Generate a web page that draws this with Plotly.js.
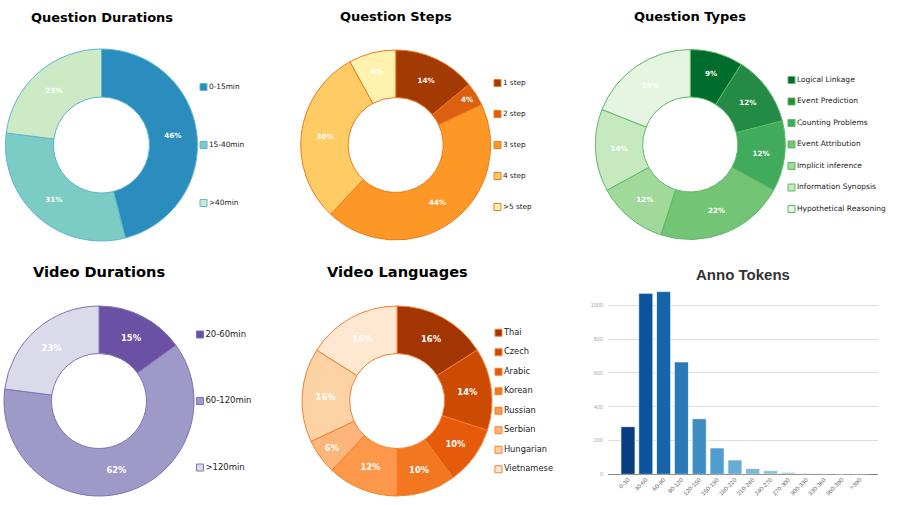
<!DOCTYPE html>
<html>
<head>
<meta charset="utf-8">
<script src="https://cdn.plot.ly/plotly-3.0.1.min.js"></script>
<style>
  html, body { margin: 0; padding: 0; background: #fff; }
  #chart { width: 897px; height: 505px; }
</style>
</head>
<body>
<div id="chart"></div>
<script>
const W = 897, H = 505;

// ---- data ----
const qDurLabels = ['0-15min', '15-40min', '>40min'];
const qDurValues = [46, 31, 23];
const qDurColors = ['#2b8cbe', '#7bccc4', '#ccebc5'];

const qStepLabels = ['1 step', '2 step', '3 step', '4 step', '>5 step'];
const qStepValues = [14, 4, 44, 30, 8];
const qStepColors = ['#a33a03', '#dc600f', '#fd9827', '#fecb65', '#fff2ae'];

const qTypeLabels = ['Logical Linkage', 'Event Prediction', 'Counting Problems', 'Event Attribution',
  'Implicit inference', 'Information Synopsis', 'Hypothetical Reasoning'];
const qTypeValues = [9, 12, 12, 22, 12, 14, 19];
const qTypeColors = ['#006d2c', '#238b45', '#41ab5d', '#74c476', '#a1d99b', '#c7e9c0', '#e5f5e0'];

const vDurLabels = ['20-60min', '60-120min', '>120min'];
const vDurValues = [15, 62, 23];
const vDurColors = ['#6a51a3', '#9e9ac8', '#dadaeb'];

const vLangLabels = ['Thai', 'Czech', 'Arabic', 'Korean', 'Russian', 'Serbian', 'Hungarian', 'Vietnamese'];
const vLangValues = [16, 14, 10, 10, 12, 6, 16, 16];
const vLangColors = ['#a33503', '#cc4a02', '#e65a0c', '#f37720', '#fd984a', '#fdb57a', '#fdd2a5', '#fee8d2'];

const tokenBins = ['0-30', '30-60', '60-90', '90-120', '120-150', '150-180', '180-210', '210-240',
  '240-270', '270-300', '300-330', '330-360', '360-390', '>390'];
const tokenCounts = [282, 1071, 1081, 665, 329, 156, 85, 34, 22, 12, 6, 4, 2, 2];
const tokenColors = ['#083d7f', '#0a539e', '#1764ab', '#2a7ab9', '#3d8dc4', '#4f9ecf', '#68acd5',
  '#7db8da', '#90c2de', '#a0cae2', '#b0d2e7', '#bfdaec', '#cbe0f0', '#d6e7f4'];

// ---- layout of the donut panels ----
const panels = [
  {title: 'Question Durations', labels: qDurLabels, values: qDurValues, colors: qDurColors,
   edge: '#5db4d4', cx: 101.5, cy: 145, r: 96, ty: 17, tsize: 13, pct: 7.2,
   lx: 203.5, gap: 58, lfont: 7.4},
  {title: 'Question Steps', labels: qStepLabels, values: qStepValues, colors: qStepColors,
   edge: '#ee7a1c', cx: 395.7, cy: 145, r: 95, ty: 16, tsize: 13, pct: 7.2,
   lx: 497.5, gap: 31, lfont: 7.3},
  {title: 'Question Types', labels: qTypeLabels, values: qTypeValues, colors: qTypeColors,
   edge: '#5cb86a', cx: 690.3, cy: 144.5, r: 95, ty: 16, tsize: 13, pct: 7.2,
   lx: 791.5, gap: 21.5, lfont: 7.5},
  {title: 'Video Durations', labels: vDurLabels, values: vDurValues, colors: vDurColors,
   edge: '#7f72b6', cx: 99, cy: 401, r: 95, ty: 271.5, tsize: 14.6, pct: 8.4,
   lx: 200, gap: 66.5, lfont: 8.5},
  {title: 'Video Languages', labels: vLangLabels, values: vLangValues, colors: vLangColors,
   edge: '#f3802f', cx: 397, cy: 401, r: 95, ty: 271.5, tsize: 14.6, pct: 8.4,
   lx: 498.5, gap: 19.5, lfont: 8.3}
];

function dom(cx, cy, r) {
  return {x: [(cx - r) / W, (cx + r) / W], y: [1 - (cy + r) / H, 1 - (cy - r) / H]};
}

const traces = [];
const annotations = [];

panels.forEach(p => {
  traces.push({
    type: 'pie',
    labels: p.labels,
    values: p.values,
    hole: 0.5,
    sort: false,
    direction: 'clockwise',
    rotation: 0,
    domain: dom(p.cx, p.cy, p.r),
    marker: {colors: p.colors, line: {color: p.edge, width: 1}},
    texttemplate: '%{percent:.0%}',
    textposition: 'inside',
    insidetextorientation: 'horizontal',
    insidetextfont: {color: '#ffffff', size: p.pct, family: 'DejaVu Sans', weight: 'bold'},
    showlegend: false,
    hoverinfo: 'label+percent'
  });

  // legend drawn as a marker column on an overlay axis
  const n = p.labels.length;
  const ys = p.labels.map((_, i) => p.cy + (i - (n - 1) / 2) * p.gap);
  traces.push({
    type: 'scatter',
    mode: 'markers+text',
    xaxis: 'x2', yaxis: 'y2',
    x: p.labels.map(() => p.lx),
    y: ys,
    text: p.labels,
    textposition: 'middle right',
    textfont: {family: 'DejaVu Sans', size: p.lfont, color: '#222'},
    marker: {symbol: 'square', size: 7, color: p.colors, line: {color: p.edge, width: 1}},
    showlegend: false,
    hoverinfo: 'skip',
    cliponaxis: false
  });

  annotations.push({
    text: p.title, xref: 'paper', yref: 'paper',
    x: p.cx / W, y: 1 - p.ty / H, xanchor: 'center', yanchor: 'middle',
    showarrow: false,
    font: {family: 'DejaVu Sans', size: p.tsize, weight: 'bold', color: '#000'}
  });
});

traces.push({
  type: 'bar',
  x: tokenBins,
  y: tokenCounts,
  marker: {color: tokenColors, line: {color: 'rgba(255,255,255,0.7)', width: 1}},
  showlegend: false,
  hoverinfo: 'x+y'
});

annotations.push({
  text: 'Anno Tokens', xref: 'paper', yref: 'paper',
  x: 743 / W, y: 1 - 274 / H, xanchor: 'center', yanchor: 'middle',
  showarrow: false,
  font: {family: 'Liberation Sans', size: 15, weight: 'bold', color: '#333'}
});

const layout = {
  width: W, height: H,
  margin: {l: 0, r: 0, t: 0, b: 0},
  paper_bgcolor: '#fff',
  plot_bgcolor: 'rgba(0,0,0,0)',
  showlegend: false,
  bargap: 0.21,
  xaxis: {
    domain: [608 / W, 878 / W],
    range: [-1.12, 14.03],
    tickangle: -45,
    tickfont: {family: 'Liberation Sans', size: 6, color: '#666'},
    ticks: '', showgrid: false, zeroline: false, showline: false,
    anchor: 'y'
  },
  yaxis: {
    domain: [1 - 474.3 / H, 1 - 288.4 / H],
    range: [0, 1100],
    tickvals: [0, 200, 400, 600, 800, 1000],
    tickfont: {family: 'Liberation Sans', size: 5.5, color: '#aaa'},
    ticks: '', showgrid: true, gridcolor: '#dedede', gridwidth: 1,
    zeroline: true, zerolinecolor: '#888', zerolinewidth: 1,
    showline: false, ticklabelstandoff: 4,
    anchor: 'x'
  },
  xaxis2: {domain: [0, 1], range: [0, W], visible: false, fixedrange: true, anchor: 'y2'},
  yaxis2: {domain: [0, 1], range: [H, 0], visible: false, fixedrange: true, anchor: 'x2'},
  annotations: annotations
};

Plotly.newPlot('chart', traces, layout, {staticPlot: true, displayModeBar: false});
</script>
</body>
</html>
